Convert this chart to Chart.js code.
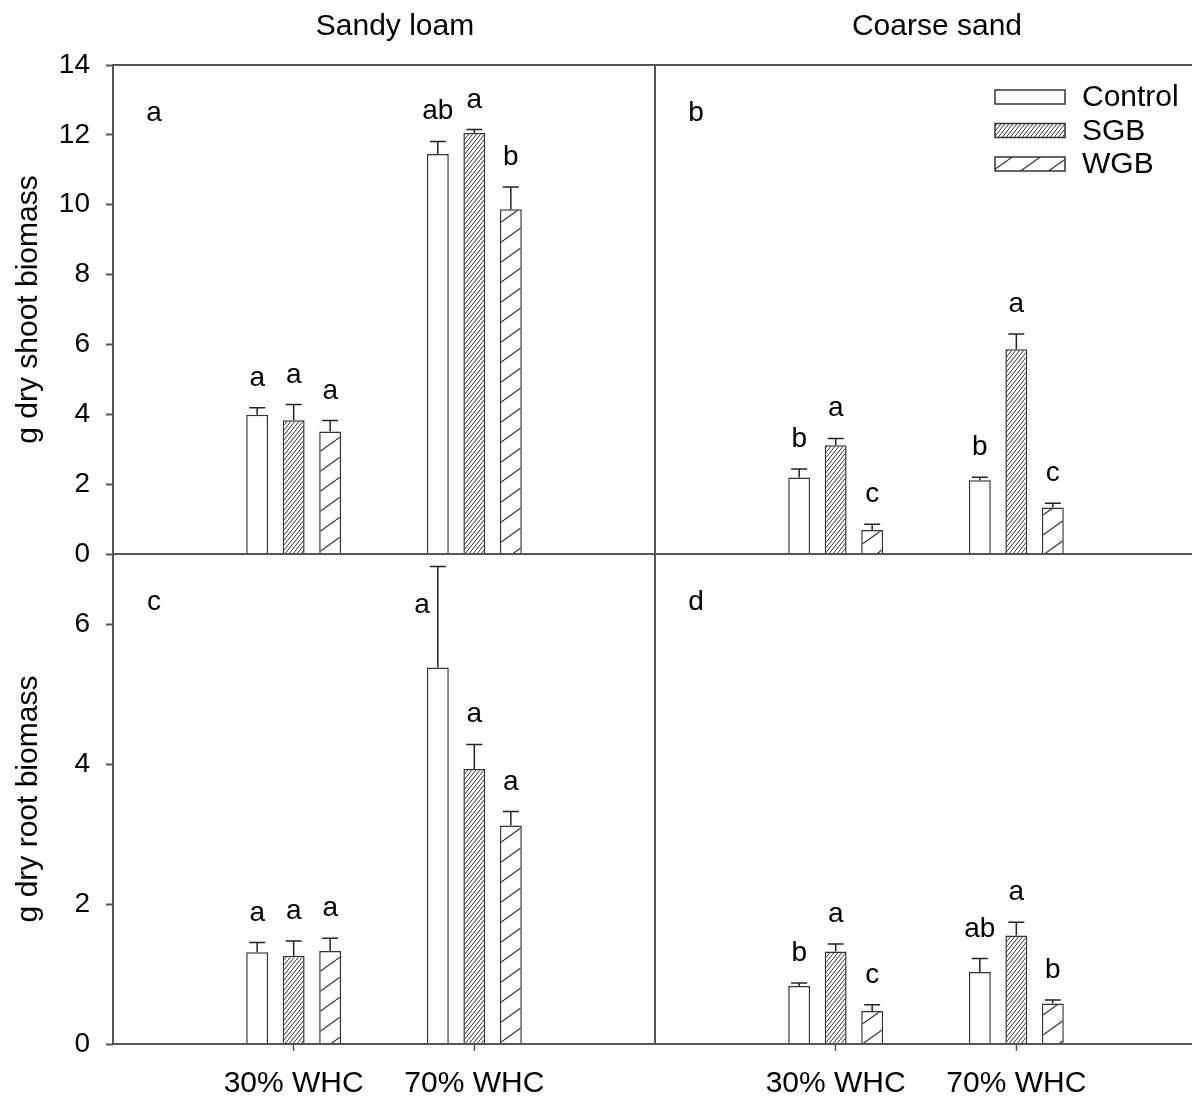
<!DOCTYPE html>
<html>
<head>
	<meta charset="utf-8" />
	<title>Shoot and root biomass</title>
	<script src="https://cdn.jsdelivr.net/npm/chart.js@4.4.0/dist/chart.umd.min.js"></script>
	<style>
		html, body { margin: 0; padding: 0; background: #fff; overflow: hidden; width: 1192px; height: 1099px; }
		canvas { position: absolute; left: 0; top: 0; }
	</style>
</head>
<body>

<canvas id="shootSandy" width="1200" height="1099"></canvas>
<canvas id="shootCoarse" width="1200" height="1099"></canvas>
<canvas id="rootSandy" width="1200" height="1099"></canvas>
<canvas id="rootCoarse" width="1200" height="1099"></canvas>

<script>

// categories and series
var categories = ['30% WHC', '70% WHC']
var treatments = ['Control', 'SGB', 'WGB']
var soils = ['Sandy loam', 'Coarse sand']
var panelTags = ['a', 'b', 'c', 'd']

// g dry shoot biomass, per treatment [30%, 70%]
var shootSandyMean = [[3.99, 11.45], [3.83, 12.05], [3.51, 9.87]]
var shootSandyErr = [[0.20, 0.36], [0.45, 0.10], [0.31, 0.64]]
var shootSandyLetters = [['a', 'ab'], ['a', 'a'], ['a', 'b']]

var shootCoarseMean = [[2.19, 2.11], [3.11, 5.86], [0.69, 1.33]]
var shootCoarseErr = [[0.24, 0.09], [0.20, 0.44], [0.16, 0.12]]
var shootCoarseLetters = [['b', 'b'], ['a', 'a'], ['c', 'c']]

// g dry root biomass
var rootSandyMean = [[1.31, 5.38], [1.26, 3.93], [1.33, 3.12]]
var rootSandyErr = [[0.14, 1.44], [0.21, 0.35], [0.18, 0.20]]
var rootSandyLetters = [['a', 'a'], ['a', 'a'], ['a', 'a']]

var rootCoarseMean = [[0.83, 1.03], [1.32, 1.55], [0.47, 0.58]]
var rootCoarseErr = [[0.04, 0.19], [0.11, 0.19], [0.09, 0.05]]
var rootCoarseLetters = [['b', 'ab'], ['a', 'a'], ['c', 'b']]

// axis ranges
var shootMax = 14
var rootMax = 7
var tickStep = 2

var FONT = "'Liberation Sans', Arial, sans-serif"
var LINE = '#555'

function hatch(w, h, step, lw) {
	var c = document.createElement('canvas')
	c.width = w; c.height = h
	var g = c.getContext('2d')
	g.fillStyle = '#fff'
	g.fillRect(0, 0, w, h)
	g.strokeStyle = '#333'
	g.lineWidth = lw
	for (var k = -h; k <= h; k += step) {
		g.beginPath()
		g.moveTo(0, h + k)
		g.lineTo(w, k)
		g.stroke()
	}
	return g.createPattern(c, 'repeat')
}

var fills = ['#fff', hatch(16, 20, 5, 1), hatch(28, 20, 20, 1.2)]

// frame, error bars, letters, legend
var panelDeco = {
	id: 'panelDeco',
	afterDatasetsDraw: function (chart, args, opts) {
		var ctx = chart.ctx
		var a = chart.chartArea
		var y = chart.scales.y
		ctx.save()

		// error bars + letters
		chart.data.datasets.forEach(function (ds, d) {
			var meta = chart.getDatasetMeta(d)
			ds.errors.forEach(function (e, i) {
				var bar = meta.data[i + 1]
				var v = ds.data[i + 1]
				var y0 = y.getPixelForValue(v)
				var y1 = y.getPixelForValue(v + e)
				ctx.strokeStyle = '#222'
				ctx.lineWidth = 1.5
				ctx.beginPath()
				ctx.moveTo(bar.x, y0); ctx.lineTo(bar.x, y1)
				ctx.moveTo(bar.x - 8, y1); ctx.lineTo(bar.x + 8, y1)
				ctx.stroke()

				ctx.fillStyle = '#000'
				ctx.font = '28px ' + FONT
				ctx.textBaseline = 'alphabetic'
				var ly = y1 - 22
				if (ly - 24 < a.top) {
					ctx.textAlign = 'right'
					ctx.fillText(ds.letters[i], bar.x - 8, y1 + 46)
				} else {
					ctx.textAlign = 'center'
					ctx.fillText(ds.letters[i], bar.x, ly)
				}
			})
		})

		// frame
		ctx.strokeStyle = LINE
		ctx.lineWidth = 2
		ctx.strokeRect(a.left, a.top, a.right - a.left, a.bottom - a.top)

		// panel tag
		ctx.fillStyle = '#000'
		ctx.font = '28px ' + FONT
		ctx.textAlign = 'center'
		ctx.textBaseline = 'middle'
		ctx.fillText(opts.tag, a.left + 41, a.top + 48)

		// soil title
		if (opts.title) {
			ctx.font = '30px ' + FONT
			ctx.fillText(opts.title, (a.left + a.right) / 2 + 11, 27)
		}

		// legend
		if (opts.legend) {
			ctx.font = '30px ' + FONT
			ctx.textAlign = 'left'
			chart.data.datasets.forEach(function (ds, d) {
				var cy = 97 + d * 33.5
				ctx.fillStyle = ds.backgroundColor
				ctx.fillRect(995, cy - 7, 70, 14)
				ctx.strokeStyle = '#333'
				ctx.lineWidth = 1.5
				ctx.strokeRect(995, cy - 7, 70, 14)
				ctx.fillStyle = '#000'
				ctx.fillText(ds.label, 1082, cy + 1)
			})
		}
		ctx.restore()
	}
}

function padded(arr) { return [null].concat(arr, [null]) }

function buildPanel(id, p) {
	var datasets = treatments.map(function (name, d) {
		return {
			label: name,
			data: padded(p.mean[d]),
			errors: p.err[d],
			letters: p.letters[d],
			backgroundColor: fills[d],
			borderColor: '#333',
			borderWidth: 1.5,
			barPercentage: 0.6,
			categoryPercentage: 0.606
		}
	})
	var labels = padded(categories).map(function (l) { return l === null ? '' : l })

	return new Chart(document.getElementById(id), {
		type: 'bar',
		data: { labels: labels, datasets: datasets },
		plugins: [panelDeco],
		options: {
			responsive: false,
			animation: false,
			events: [],
			layout: { padding: p.pad },
			plugins: {
				legend: { display: false },
				tooltip: { enabled: false },
				panelDeco: { tag: p.tag, title: p.title, legend: p.legend }
			},
			scales: {
				x: {
					display: p.showX,
					offset: false,
					border: { display: false },
					grid: {
						offset: false,
						drawOnChartArea: false,
						tickLength: 7,
						tickWidth: 1.5,
						tickColor: function (c) { return c.tick && c.tick.label ? LINE : 'rgba(0,0,0,0)' }
					},
					ticks: { color: '#000', font: { family: FONT, size: 30 }, padding: 15, maxRotation: 0, autoSkip: false },
					afterFit: function (s) {
						s.paddingLeft = 0
						s.paddingRight = 0
						if (p.showX) s.height = 55
					}
				},
				y: {
					display: p.showY,
					min: 0,
					max: p.max,
					border: { display: false },
					grid: { drawOnChartArea: false, tickLength: 7, tickWidth: 2, tickColor: LINE },
					ticks: { stepSize: tickStep, includeBounds: false, color: '#000', font: { family: FONT, size: 28 }, padding: 16 },
					title: { display: true, text: p.yTitle, color: '#000', font: { family: FONT, size: 30 }, padding: { top: 11, bottom: 0 } },
					afterFit: function (s) { if (p.showY) s.width = 113 }
				}
			}
		}
	})
}

buildPanel('shootSandy', {
	mean: shootSandyMean, err: shootSandyErr, letters: shootSandyLetters,
	max: shootMax, tag: panelTags[0], title: soils[0], legend: false,
	showX: false, showY: true, yTitle: 'g dry shoot biomass',
	pad: { left: 0, top: 65, right: 545, bottom: 545 }
})
buildPanel('shootCoarse', {
	mean: shootCoarseMean, err: shootCoarseErr, letters: shootCoarseLetters,
	max: shootMax, tag: panelTags[1], title: soils[1], legend: true,
	showX: false, showY: false, yTitle: '',
	pad: { left: 655, top: 65, right: 3, bottom: 545 }
})
buildPanel('rootSandy', {
	mean: rootSandyMean, err: rootSandyErr, letters: rootSandyLetters,
	max: rootMax, tag: panelTags[2], title: null, legend: false,
	showX: true, showY: true, yTitle: 'g dry root biomass',
	pad: { left: 0, top: 554, right: 545, bottom: 0 }
})
buildPanel('rootCoarse', {
	mean: rootCoarseMean, err: rootCoarseErr, letters: rootCoarseLetters,
	max: rootMax, tag: panelTags[3], title: null, legend: false,
	showX: true, showY: false, yTitle: '',
	pad: { left: 655, top: 554, right: 3, bottom: 0 }
})

</script>

</body>
</html>
